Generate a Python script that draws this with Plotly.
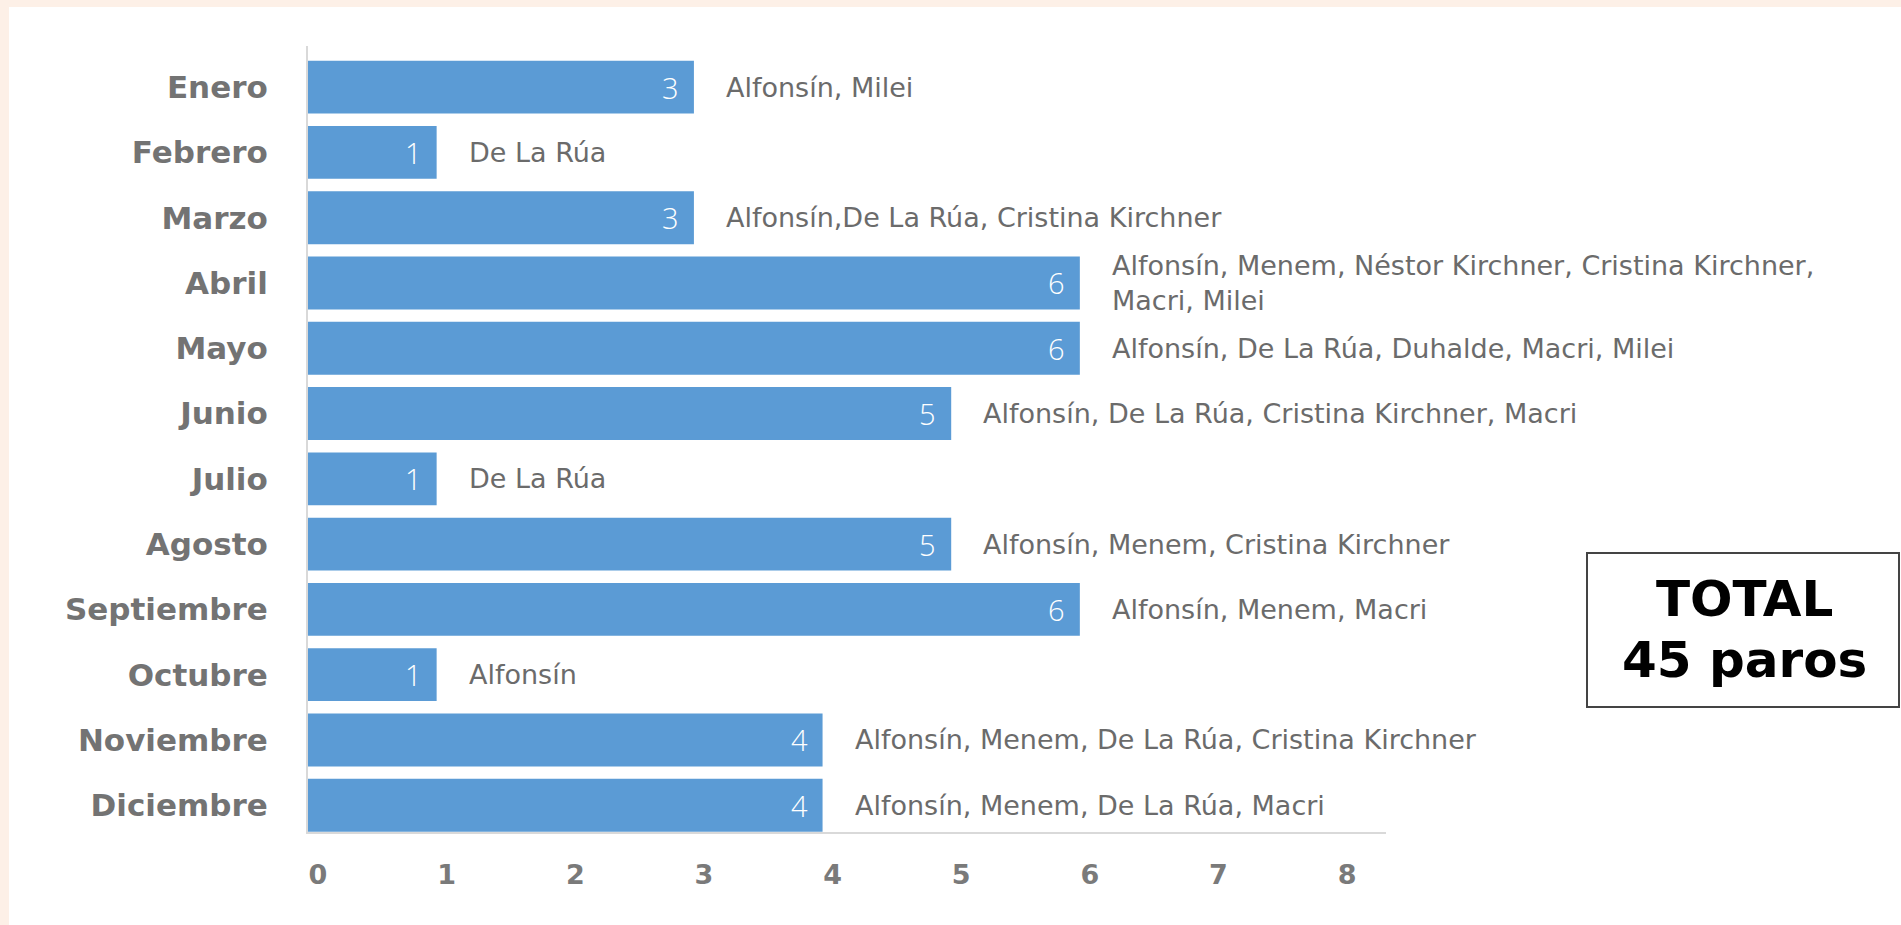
import plotly.graph_objects as go

meses = ["Enero", "Febrero", "Marzo", "Abril", "Mayo", "Junio", "Julio",
         "Agosto", "Septiembre", "Octubre", "Noviembre", "Diciembre"]
paros = [3, 1, 3, 6, 6, 5, 1, 5, 6, 1, 4, 4]
presidentes = [
    "Alfonsín, Milei",
    "De La Rúa",
    "Alfonsín,De La Rúa, Cristina Kirchner",
    "Alfonsín, Menem, Néstor Kirchner, Cristina Kirchner,<br>Macri, Milei",
    "Alfonsín, De La Rúa, Duhalde, Macri, Milei",
    "Alfonsín, De La Rúa, Cristina Kirchner, Macri",
    "De La Rúa",
    "Alfonsín, Menem, Cristina Kirchner",
    "Alfonsín, Menem, Macri",
    "Alfonsín",
    "Alfonsín, Menem, De La Rúa, Cristina Kirchner",
    "Alfonsín, Menem, De La Rúa, Macri",
]
x_ticks = [0, 1, 2, 3, 4, 5, 6, 7, 8]
total_lineas = ["TOTAL", "45 paros"]

BLUE = "#5b9bd5"
PEACH = "#fdf0e7"
GREY = "#6b6b6b"
FONT = "DejaVu Sans"

W, H = 1901, 925
L, R, T, B = 308, 515, 46, 93
pw, ph = W - L - R, H - T - B


def px_x(p):
    return (p - L) / pw


def px_y(p):
    return (H - B - p) / ph


fig = go.Figure(go.Bar(
    x=paros, y=meses, orientation="h",
    marker=dict(color=BLUE, line_width=0),
    hoverinfo="skip",
))

for mes, v, txt in zip(meses, paros, presidentes):
    # valor dentro de la barra
    fig.add_annotation(
        x=v, y=mes, text=str(v), xanchor="right", showarrow=False, xshift=-13,
        font=dict(size=29, color="white", family="Open Sans", weight=300),
    )
    # presidentes a la derecha
    fig.add_annotation(
        x=v, y=mes, text=txt, xanchor="left", showarrow=False, xshift=30,
        align="left", font=dict(size=27, color=GREY, family=FONT),
    )

# marco durazno arriba e izquierda
fig.add_shape(type="rect", xref="paper", yref="paper", layer="below",
              x0=px_x(-5), x1=px_x(W + 5), y0=px_y(7), y1=px_y(-5),
              fillcolor=PEACH, line_width=0)
fig.add_shape(type="rect", xref="paper", yref="paper", layer="below",
              x0=px_x(-5), x1=px_x(9), y0=px_y(H + 5), y1=px_y(-5),
              fillcolor=PEACH, line_width=0)

# recuadro total
fig.add_shape(type="rect", xref="paper", yref="paper",
              x0=px_x(1587), x1=px_x(1899), y0=px_y(707), y1=px_y(553),
              fillcolor="white", line=dict(color="#444444", width=2))
for linea, yc in zip(total_lineas, [599, 660]):
    fig.add_annotation(
        xref="paper", yref="paper", x=px_x(1744), y=px_y(yc),
        xanchor="center", yanchor="middle",
        text=f"<b>{linea}</b>", showarrow=False,
        font=dict(size=50, color="black", family=FONT),
    )

fig.update_layout(
    width=W, height=H,
    margin=dict(l=L, r=R, t=T, b=B, pad=0),
    paper_bgcolor="white", plot_bgcolor="white",
    bargap=0.19, showlegend=False,
    xaxis=dict(range=[0, 8.38], tickvals=x_ticks, showgrid=False, zeroline=False,
               showline=True, linecolor="#d9d9d9", linewidth=2,
               ticks="", ticklabelstandoff=18, ticklabelshift=10,
               tickfont=dict(size=27, color="#7a7a7a", family=FONT, weight=700)),
    yaxis=dict(range=[11.41, -0.63], showgrid=False, zeroline=False,
               showline=True, linecolor="#d9d9d9", linewidth=2,
               ticks="", ticklabelstandoff=32,
               tickfont=dict(size=31, color="#737373", family=FONT, weight=700)),
)

fig.write_html("out.html", config={"displayModeBar": False},
               post_script="document.body.style.margin='0';")
